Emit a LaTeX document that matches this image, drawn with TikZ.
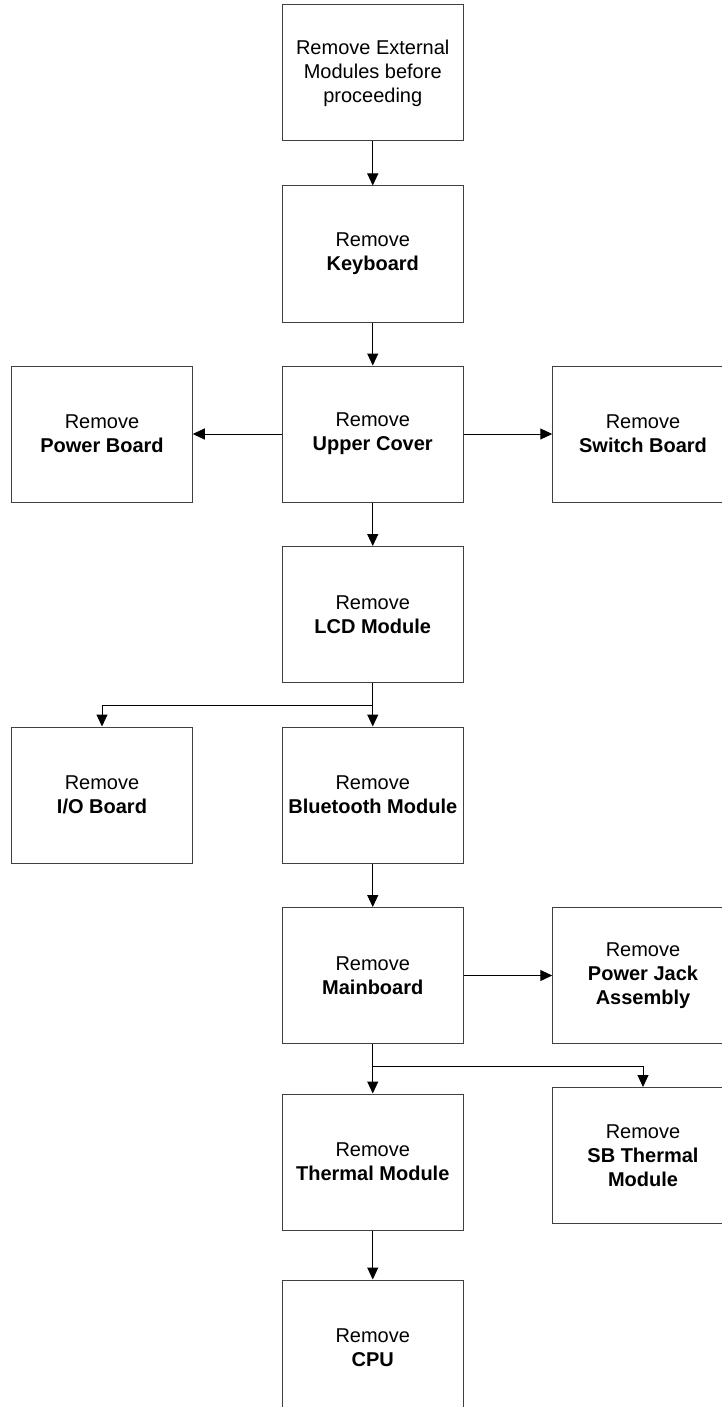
\documentclass[tikz,border=0pt]{standalone}
\usepackage{fontspec}
\setmainfont{Liberation Sans}
\usetikzlibrary{arrows.meta}
\begin{document}
\begin{tikzpicture}[x=1pt,y=-1pt,
  box/.style={draw=black!75, line width=1pt, minimum width=180.5pt, minimum height=136pt,
    inner sep=0pt, align=center, font=\fontsize{20}{24}\selectfont, text=black,
    execute at begin node={\rule{0pt}{20.5pt}}},
  conn/.style={line width=1pt, draw=black, -{Triangle[length=12pt,width=11pt]}},
  plain/.style={line width=1pt, draw=black}]
\useasboundingbox (0,0) rectangle (722,1407);
\clip (0,0) rectangle (722,1407);
\node[box] (ext) at (372.75,73) {Remove External\\Modules before\\proceeding};
\node[box] (kb) at (372.75,254) {Remove\\\textbf{Keyboard}};
\node[box] (uc) at (372.75,434) {Remove\\\textbf{Upper Cover}};
\node[box] (pb) at (102,434) {Remove\\\textbf{Power Board}};
\node[box] (sw) at (643,434) {Remove\\\textbf{Switch Board}};
\node[box] (lcd) at (372.75,614.5) {Remove\\\textbf{LCD Module}};
\node[box] (io) at (102,795) {Remove\\\textbf{I/O Board}};
\node[box] (bt) at (372.75,795) {Remove\\\textbf{Bluetooth Module}};
\node[box] (mb) at (372.75,975.5) {Remove\\\textbf{Mainboard}};
\node[box] (pj) at (643,975.5) {Remove\\\textbf{Power Jack}\\\textbf{Assembly}};
\node[box] (tm) at (372.75,1162) {Remove\\\textbf{Thermal Module}};
\node[box] (sb) at (643,1155.5) {Remove\\\textbf{SB Thermal}\\\textbf{Module}};
\node[box] (cpu) at (372.75,1348) {Remove\\\textbf{CPU}};
\coordinate (lcdj) at (372.75,705);
\coordinate (mbj) at (372.75,1066);
\draw[conn] (ext) -- (kb);
\draw[conn] (kb) -- (uc);
\draw[conn] (uc) -- (pb);
\draw[conn] (uc) -- (sw);
\draw[conn] (uc) -- (lcd);
\draw[plain] (lcd.south) -- (lcdj);
\draw[conn] (lcdj) -| (io.north);
\draw[conn] (lcdj) -- (bt.north);
\draw[conn] (bt) -- (mb);
\draw[conn] (mb) -- (pj);
\draw[plain] (mb.south) -- (mbj);
\draw[conn] (mbj) -- (tm.north);
\draw[conn] (mbj) -| (sb.north);
\draw[conn] (tm) -- (cpu);
\end{tikzpicture}
\end{document}
